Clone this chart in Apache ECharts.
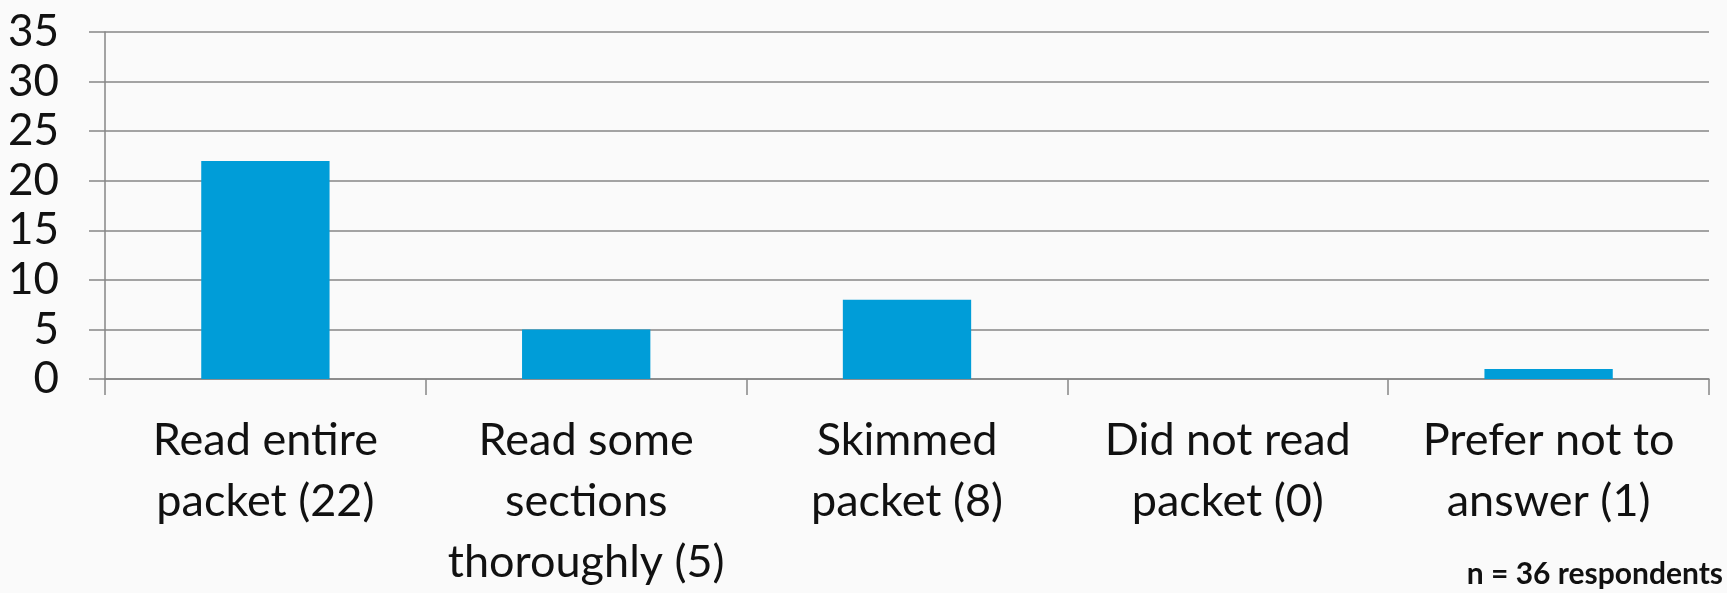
<!DOCTYPE html>
<html>
<head>
<meta charset="utf-8">
<script src="https://cdn.jsdelivr.net/npm/echarts@6/dist/echarts.min.js"></script>
<style>
  html, body { margin: 0; padding: 0; background: #fafafa; }
  #chart { width: 1727px; height: 593px; }
</style>
</head>
<body>
<div id="chart"></div>
<script>
// categories and counts
const categories = [
  'Read entire\npacket (22)',
  'Read some\nsections\nthoroughly (5)',
  'Skimmed\npacket (8)',
  'Did not read\npacket (0)',
  'Prefer not to\nanswer (1)'
];
const counts = [22, 5, 8, 0, 1];
const noteText = 'n = 36 respondents';

const chart = echarts.init(document.getElementById('chart'));
const fontFamily = 'Lato, "Open Sans", sans-serif';
const gridColor = '#868686';

const option = {
  backgroundColor: '#fafafa',
  animation: false,
  grid: { left: 105, right: 18, top: 32, bottom: 213 },
  xAxis: {
    type: 'category',
    data: categories,
    axisLine: { lineStyle: { color: gridColor, width: 1.5 } },
    axisTick: { show: true, length: 16, lineStyle: { color: gridColor, width: 1.5 } },
    axisLabel: {
      color: '#111',
      fontFamily: fontFamily,
      fontSize: 45,
      lineHeight: 61,
      margin: 31,
      interval: 0
    }
  },
  yAxis: {
    type: 'value',
    min: 0,
    max: 35,
    interval: 5,
    axisLine: { show: true, lineStyle: { color: gridColor, width: 1.5 } },
    axisTick: { show: true, length: 16, lineStyle: { color: gridColor, width: 1.5 } },
    splitLine: { lineStyle: { color: gridColor, width: 1.5 } },
    axisLabel: {
      color: '#111',
      fontFamily: fontFamily,
      fontSize: 44,
      margin: 46
    }
  },
  series: [{
    type: 'bar',
    data: counts,
    barWidth: '40%',
    itemStyle: { color: '#009DD8' }
  }],
  graphic: [{
    type: 'text',
    right: 4,
    bottom: 4,
    style: {
      text: noteText,
      font: 'bold 30px ' + fontFamily,
      fill: '#111'
    }
  }]
};

chart.setOption(option);
</script>
</body>
</html>
